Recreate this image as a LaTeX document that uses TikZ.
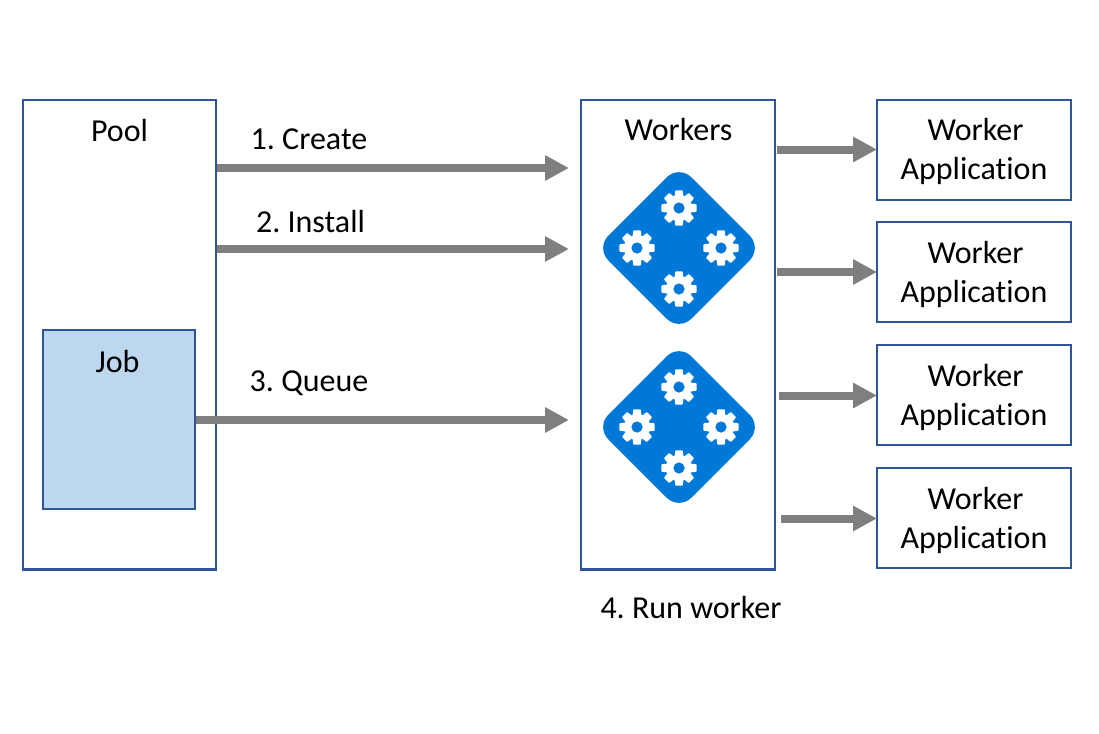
\documentclass[tikz,border=0pt]{standalone}
\usepackage{fontspec}
\setmainfont[Ligatures=NoCommon]{Carlito}
\usetikzlibrary{arrows.meta,calc}
\frenchspacing
\definecolor{boxline}{HTML}{2F5597}
\definecolor{jobfill}{HTML}{BDD7EE}
\definecolor{flow}{HTML}{7F7F7F}
\definecolor{azure}{HTML}{0078D7}
\tikzset{
  x=0.75pt,y=-0.75pt,
  box/.style={draw=boxline,line width=1.7pt,fill=white,minimum width=0pt,inner sep=0pt,anchor=north west},
  txt/.style={font=\fontsize{24}{29.25}\selectfont,align=center,text=black,inner sep=0pt},
  flowarrow/.style={draw=flow,line width=6pt,-{Triangle[length=18pt,width=18pt,fill=flow]},shorten >=-0.75pt},
  gear/.pic={
    \fill[white] (0,0) circle[radius=13];
    \foreach \a in {0,45,...,315}{
      \fill[white,rounded corners=0.5pt] (\a-22:12) -- (\a-12:18) -- (\a+12:18) -- (\a+22:12) -- cycle;
    }
    \fill[azure] (0,0) circle[radius=5.6];
  },
  workerset/.pic={
    \fill[azure,rounded corners=13pt] (0,-83) -- (83,0) -- (0,83) -- (-83,0) -- cycle;
    \pic at (0,-40) {gear};
    \pic at (-42,0) {gear};
    \pic at (42,0) {gear};
    \pic at (0,41) {gear};
  }
}
\newcommand{\appbox}[3]{%
  \node[box,minimum width=145.5pt,minimum height=75pt] (#1) at (876,#2) {};
  \node[txt] (#1t) at (974,#3) {\hspace*{2.25pt}Worker\\Application};
}
\begin{document}
\begin{tikzpicture}
\useasboundingbox (0,0) rectangle (1099,733);
\node[box,minimum width=144.75pt,minimum height=352pt] (pool) at (22,99) {};
\node[box,fill=jobfill,minimum width=114pt,minimum height=134.25pt] (job) at (41.5,329) {};
\node[box,minimum width=145.5pt,minimum height=352pt] (workers) at (580,99) {};
\appbox{a}{99}{151}
\appbox{b}{221}{274}
\appbox{c}{344}{397}
\appbox{d}{467}{520}
\node[txt] (pooll) at (119.5,130) {Pool};
\node[txt] (jobl) at (117.5,361) {Job};
\node[txt] (workersl) at (678.5,130) {Workers};
\node[txt] (l1) at (309,139) {1. Create};
\node[txt] (l2) at (310.5,222) {2. Install};
\node[txt] (l3) at (309,383) {3. Queue};
\node[txt] (l4) at (691,608) {4. Run worker};
\pic at (679,248) {workerset};
\pic at (679,427) {workerset};
\coordinate (t1) at (568,168);
\coordinate (t2) at (568,249);
\coordinate (t3) at (568,420);
\draw[flowarrow] (pool.east |- t1) -- (t1);
\draw[flowarrow] (pool.east |- t2) -- (t2);
\draw[flowarrow] (job.east |- t3) -- (t3);
\coordinate (s1) at (777,149.5);
\coordinate (s2) at (777,272);
\coordinate (s3) at (779,395.5);
\coordinate (s4) at (781,518.5);
\draw[flowarrow] (s1) -- (a.west |- s1);
\draw[flowarrow] (s2) -- (b.west |- s2);
\draw[flowarrow] (s3) -- (c.west |- s3);
\draw[flowarrow] (s4) -- (d.west |- s4);
\end{tikzpicture}
\end{document}
